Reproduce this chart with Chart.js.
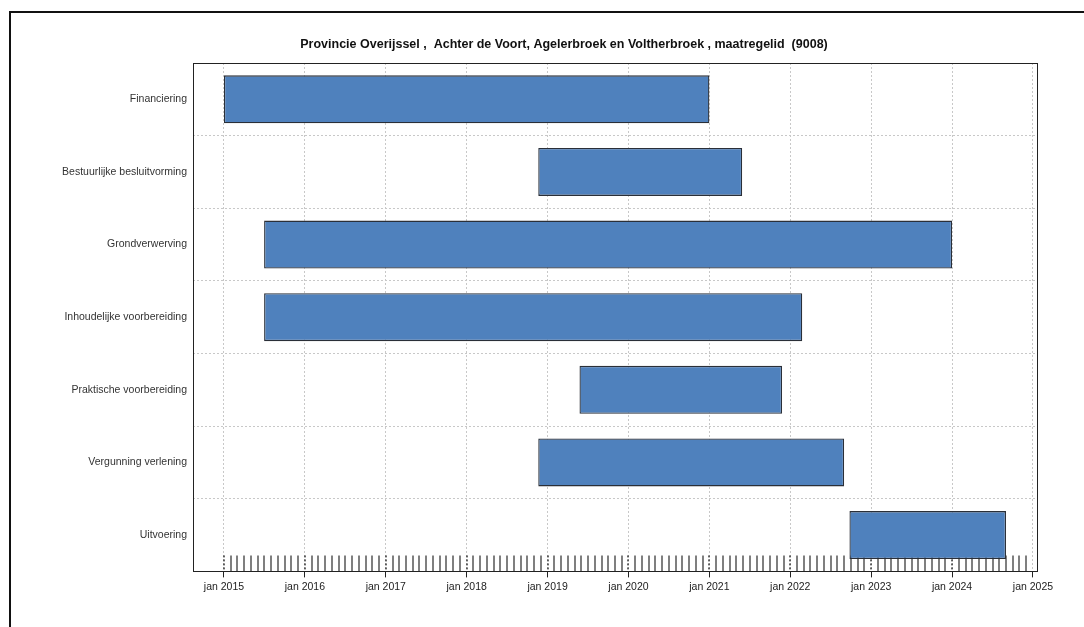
<!DOCTYPE html>
<html>
<head>
<meta charset="utf-8">
<script src="https://cdn.jsdelivr.net/npm/chart.js@4/dist/chart.umd.min.js"></script>
<style>
    html, body { margin: 0; padding: 0; background: #fff; overflow: hidden; }
    #wrap { position: relative; width: 1084px; height: 627px; }
    #frame {
        position: absolute; left: 9px; top: 11px; right: 0; bottom: 0;
        border-top: 2px solid #111; border-left: 2px solid #111;
        pointer-events: none;
    }
    #planningChart { position: absolute; left: 0; top: 0; }
</style>
</head>
<body>
<div id="wrap">
    <div id="frame"></div>
    <canvas id="planningChart" width="1084" height="627"></canvas>
</div>
<script>
const chartTitle = 'Provincie Overijssel ,  Achter de Voort, Agelerbroek en Voltherbroek , maatregelid  (9008)';

const categories = [
    'Financiering',
    'Bestuurlijke besluitvorming',
    'Grondverwerving',
    'Inhoudelijke voorbereiding',
    'Praktische voorbereiding',
    'Vergunning verlening',
    'Uitvoering'
];
const startDates = ['2015-01-01', '2018-11-20', '2015-07-01', '2015-07-01', '2019-05-25', '2018-11-20', '2022-09-25'];
const endDates   = ['2021-01-01', '2021-05-29', '2024-01-01', '2022-02-24', '2021-11-25', '2022-09-01', '2024-09-01'];

const yearTicks = [2015, 2016, 2017, 2018, 2019, 2020, 2021, 2022, 2023, 2024, 2025];
const axisMin = 2014.617;
const axisMax = 2025.05;

// date string -> decimal year
function toYear(str) {
    const d = new Date(str + 'T00:00:00Z');
    const y = d.getUTCFullYear();
    const start = Date.UTC(y, 0, 1);
    const next = Date.UTC(y + 1, 0, 1);
    return y + (d.getTime() - start) / (next - start);
}

const bars = categories.map((c, i) => [toYear(startDates[i]), toYear(endDates[i])]);

const fontFamily = '"Liberation Sans", Arial, sans-serif';

// monthly rug ticks along the bottom of the plot + black frame round the plot area
const monthTicks = {
    id: 'monthTicks',
    afterLayout(chart) {
        // the title is centred with a wide left padding; let the y labels use that space too
        chart.scales.y.left = 0;
    },
    beforeDatasetsDraw(chart) {
        const ctx = chart.ctx;
        const area = chart.chartArea;
        const x = chart.scales.x;
        ctx.save();
        ctx.lineWidth = 1.5;
        for (let y = yearTicks[0]; y < yearTicks[yearTicks.length - 1]; y++) {
            for (let m = 0; m < 12; m++) {
                const px = Math.round(x.getPixelForValue(y + m / 12));
                ctx.strokeStyle = m === 0 ? '#333' : '#555';
                ctx.setLineDash(m === 0 ? [2, 2] : []);
                ctx.beginPath();
                ctx.moveTo(px, area.bottom - 16);
                ctx.lineTo(px, area.bottom);
                ctx.stroke();
            }
        }
        ctx.restore();
    },
    afterDraw(chart) {
        const ctx = chart.ctx;
        const a = chart.chartArea;
        ctx.save();
        ctx.strokeStyle = '#222';
        ctx.lineWidth = 1;
        ctx.setLineDash([]);
        ctx.strokeRect(Math.round(a.left) + 0.5, Math.round(a.top) + 0.5,
            Math.round(a.right - a.left), Math.round(a.bottom - a.top));
        ctx.restore();
    }
};

const ctx = document.getElementById('planningChart').getContext('2d');
const planningChart = new Chart(ctx, {
    type: 'bar',
    data: {
        labels: categories,
        datasets: [{
            label: 'Planning',
            data: bars,
            backgroundColor: '#4f81bd',
            borderColor: '#2a2f38',
            borderWidth: 1.3,
            borderSkipped: false,
            barPercentage: 0.66,
            categoryPercentage: 1
        }]
    },
    options: {
        indexAxis: 'y',
        responsive: false,
        animation: false,
        layout: {
            padding: { left: 91, right: 47, top: 37, bottom: 31 }
        },
        plugins: {
            legend: { display: false },
            tooltip: { enabled: false },
            title: {
                display: true,
                text: chartTitle,
                color: '#111',
                font: { family: fontFamily, size: 12.5, weight: 'bold' },
                padding: { top: 0, bottom: 11 }
            }
        },
        scales: {
            x: {
                type: 'linear',
                min: axisMin,
                max: axisMax,
                afterBuildTicks: function (scale) {
                    scale.ticks = yearTicks.map(v => ({ value: v }));
                },
                ticks: {
                    color: '#222',
                    font: { family: fontFamily, size: 10.5 },
                    padding: 3,
                    maxRotation: 0,
                    autoSkip: false,
                    callback: function (value) { return 'jan ' + value; }
                },
                grid: {
                    color: '#c8c8c8',
                    lineWidth: 1,
                    tickLength: 6,
                    tickColor: '#222',
                    tickBorderDash: []
                },
                border: { display: false, dash: [2, 2] }
            },
            y: {
                type: 'category',
                offset: true,
                afterFit: function (scale) {
                    scale.width = 102;
                },
                ticks: {
                    color: '#333',
                    font: { family: fontFamily, size: 10.5 },
                    padding: 6
                },
                grid: {
                    offset: true,
                    color: '#c8c8c8',
                    lineWidth: 1,
                    drawTicks: false
                },
                border: { display: false, dash: [2, 2] }
            }
        }
    },
    plugins: [monthTicks]
});
</script>
</body>
</html>
